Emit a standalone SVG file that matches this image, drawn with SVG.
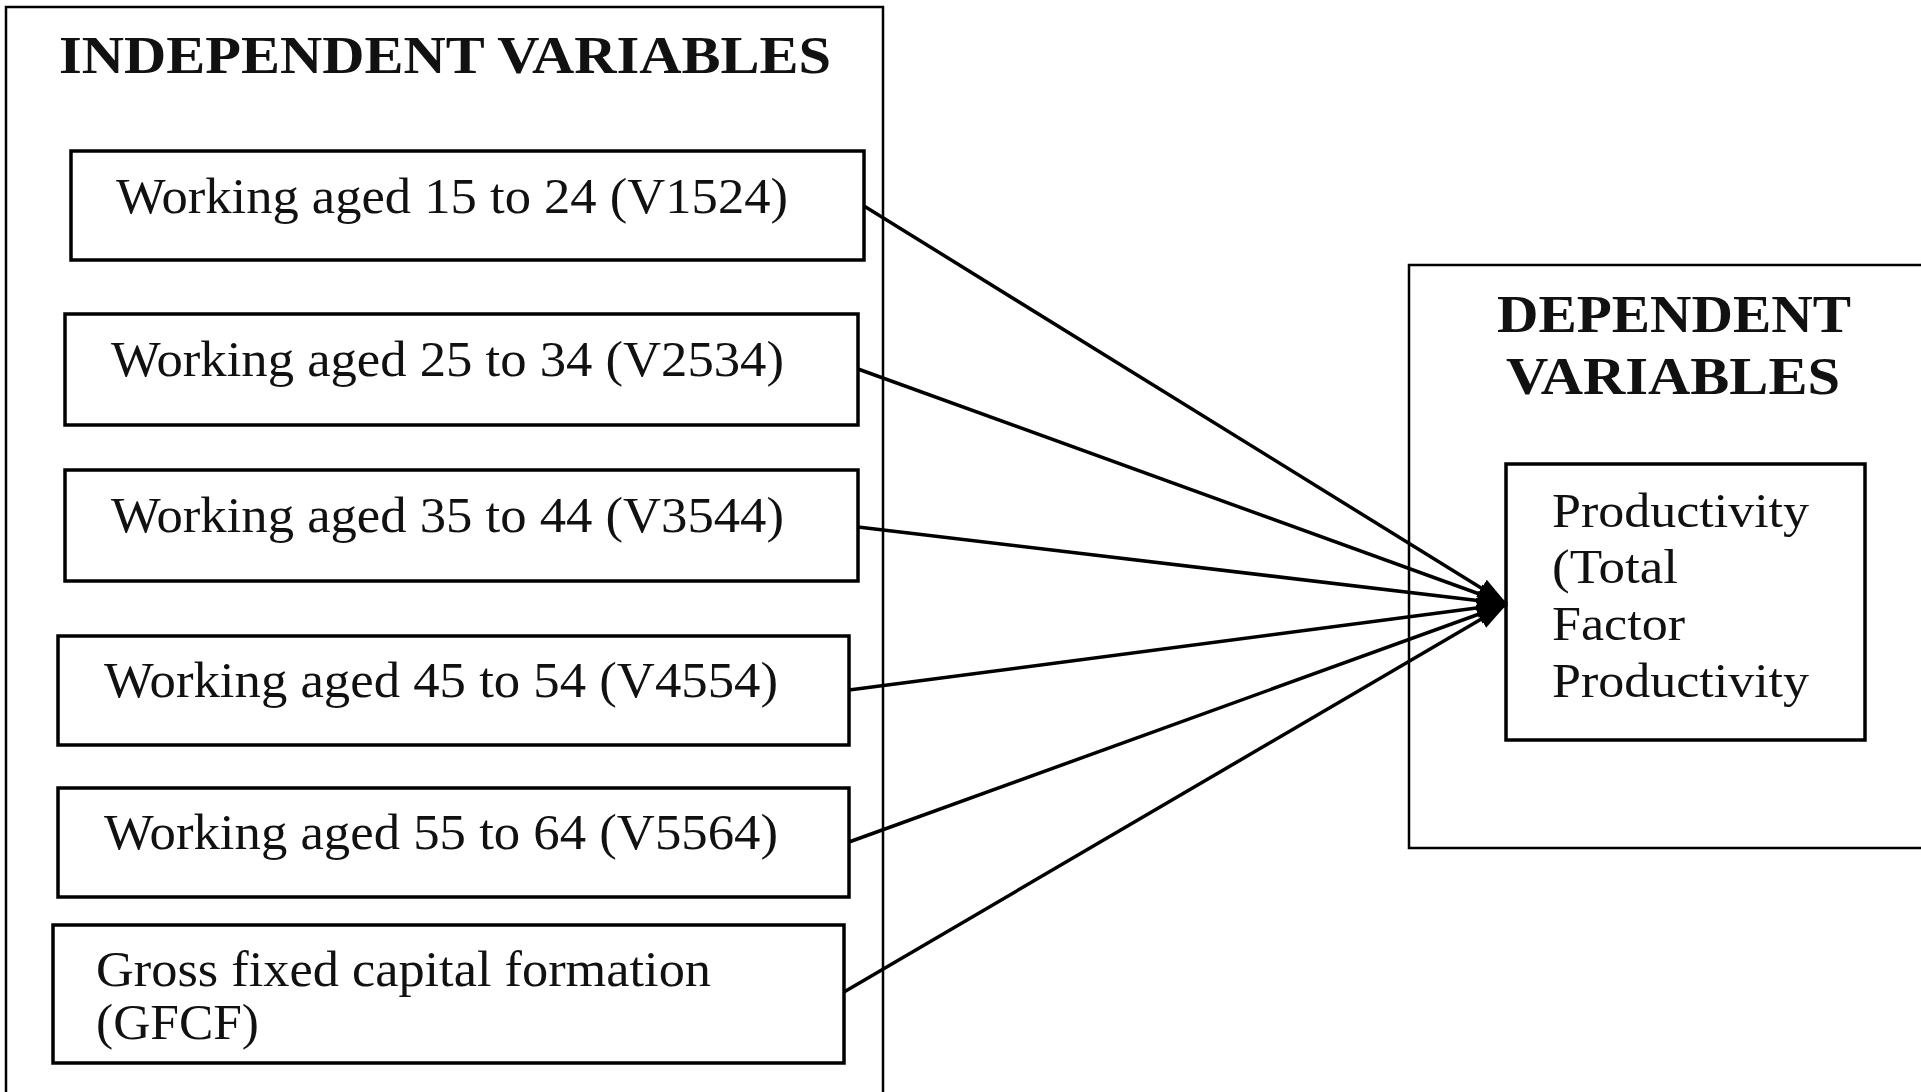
<svg xmlns="http://www.w3.org/2000/svg" width="1921" height="1092" viewBox="0 0 1921 1092">
  <style>
    .frame { fill: none; stroke: #000; stroke-width: 2.5; }
    .box { fill: #fff; stroke: #000; stroke-width: 3.5; }
    .label { font-family: "Liberation Serif", "Times New Roman", serif; font-size: 50px; fill: #111; }
    .head { font-family: "Liberation Serif", "Times New Roman", serif; font-size: 52px; font-weight: bold; fill: #111; }
    .dep { font-family: "Liberation Serif", "Times New Roman", serif; font-size: 48px; fill: #111; }
    .link { fill: none; stroke: #000; stroke-width: 3.5; }
  </style>
  <defs>
    <marker id="arrow" markerUnits="userSpaceOnUse" markerWidth="32" markerHeight="22" refX="30" refY="10" orient="auto">
      <path d="M0,0 L30,10 L0,20 z" fill="#000"/>
    </marker>
  </defs>

  <rect width="1921" height="1092" fill="#fff"/>

  <!-- independent variables panel -->
  <g id="independent">
    <rect class="frame" x="6" y="7" width="877" height="1100"/>
    <text class="head" x="59" y="73" textLength="772" lengthAdjust="spacingAndGlyphs">INDEPENDENT VARIABLES</text>
  </g>

  <g id="v1524">
    <rect class="box" x="71" y="151" width="793" height="109"/>
    <text class="label" x="116" y="213" textLength="672" lengthAdjust="spacingAndGlyphs">Working aged 15 to 24 (V1524)</text>
  </g>
  <g id="v2534">
    <rect class="box" x="65" y="314" width="793" height="111"/>
    <text class="label" x="111" y="376" textLength="673" lengthAdjust="spacingAndGlyphs">Working aged 25 to 34 (V2534)</text>
  </g>
  <g id="v3544">
    <rect class="box" x="65" y="470" width="793" height="111"/>
    <text class="label" x="111" y="532" textLength="673" lengthAdjust="spacingAndGlyphs">Working aged 35 to 44 (V3544)</text>
  </g>
  <g id="v4554">
    <rect class="box" x="58" y="636" width="791" height="109"/>
    <text class="label" x="104" y="697" textLength="674" lengthAdjust="spacingAndGlyphs">Working aged 45 to 54 (V4554)</text>
  </g>
  <g id="v5564">
    <rect class="box" x="58" y="788" width="791" height="109"/>
    <text class="label" x="104" y="849" textLength="674" lengthAdjust="spacingAndGlyphs">Working aged 55 to 64 (V5564)</text>
  </g>
  <g id="gfcf">
    <rect class="box" x="53" y="925" width="791" height="138"/>
    <text class="label" x="96" y="986" textLength="615" lengthAdjust="spacingAndGlyphs">Gross fixed capital formation</text>
    <text class="label" x="96" y="1039" textLength="163" lengthAdjust="spacingAndGlyphs">(GFCF)</text>
  </g>

  <!-- dependent variables panel -->
  <g id="dependent">
    <rect class="frame" x="1409" y="265" width="530" height="583" stroke-width="3"/>
    <text class="head" x="1674" y="332" text-anchor="middle" textLength="354" lengthAdjust="spacingAndGlyphs">DEPENDENT</text>
    <text class="head" x="1673" y="394" text-anchor="middle" textLength="334" lengthAdjust="spacingAndGlyphs">VARIABLES</text>
  </g>

  <g id="tfp">
    <rect class="box" x="1506" y="464" width="359" height="276"/>
    <text class="dep" x="1552" y="527" textLength="257" lengthAdjust="spacingAndGlyphs">Productivity</text>
    <text class="dep" x="1552" y="583" textLength="126" lengthAdjust="spacingAndGlyphs">(Total</text>
    <text class="dep" x="1552" y="640" textLength="133" lengthAdjust="spacingAndGlyphs">Factor</text>
    <text class="dep" x="1552" y="697" textLength="257" lengthAdjust="spacingAndGlyphs">Productivity</text>
  </g>

  <!-- connectors: every input feeds the productivity box -->
  <g id="connectors">
    <line class="link" x1="864" y1="206" x2="1507" y2="604" marker-end="url(#arrow)"/>
    <line class="link" x1="858" y1="369" x2="1507" y2="604" marker-end="url(#arrow)"/>
    <line class="link" x1="858" y1="527" x2="1507" y2="604" marker-end="url(#arrow)"/>
    <line class="link" x1="849" y1="690" x2="1507" y2="604" marker-end="url(#arrow)"/>
    <line class="link" x1="849" y1="842" x2="1507" y2="604" marker-end="url(#arrow)"/>
    <line class="link" x1="844" y1="992" x2="1507" y2="604" marker-end="url(#arrow)"/>
  </g>
</svg>
